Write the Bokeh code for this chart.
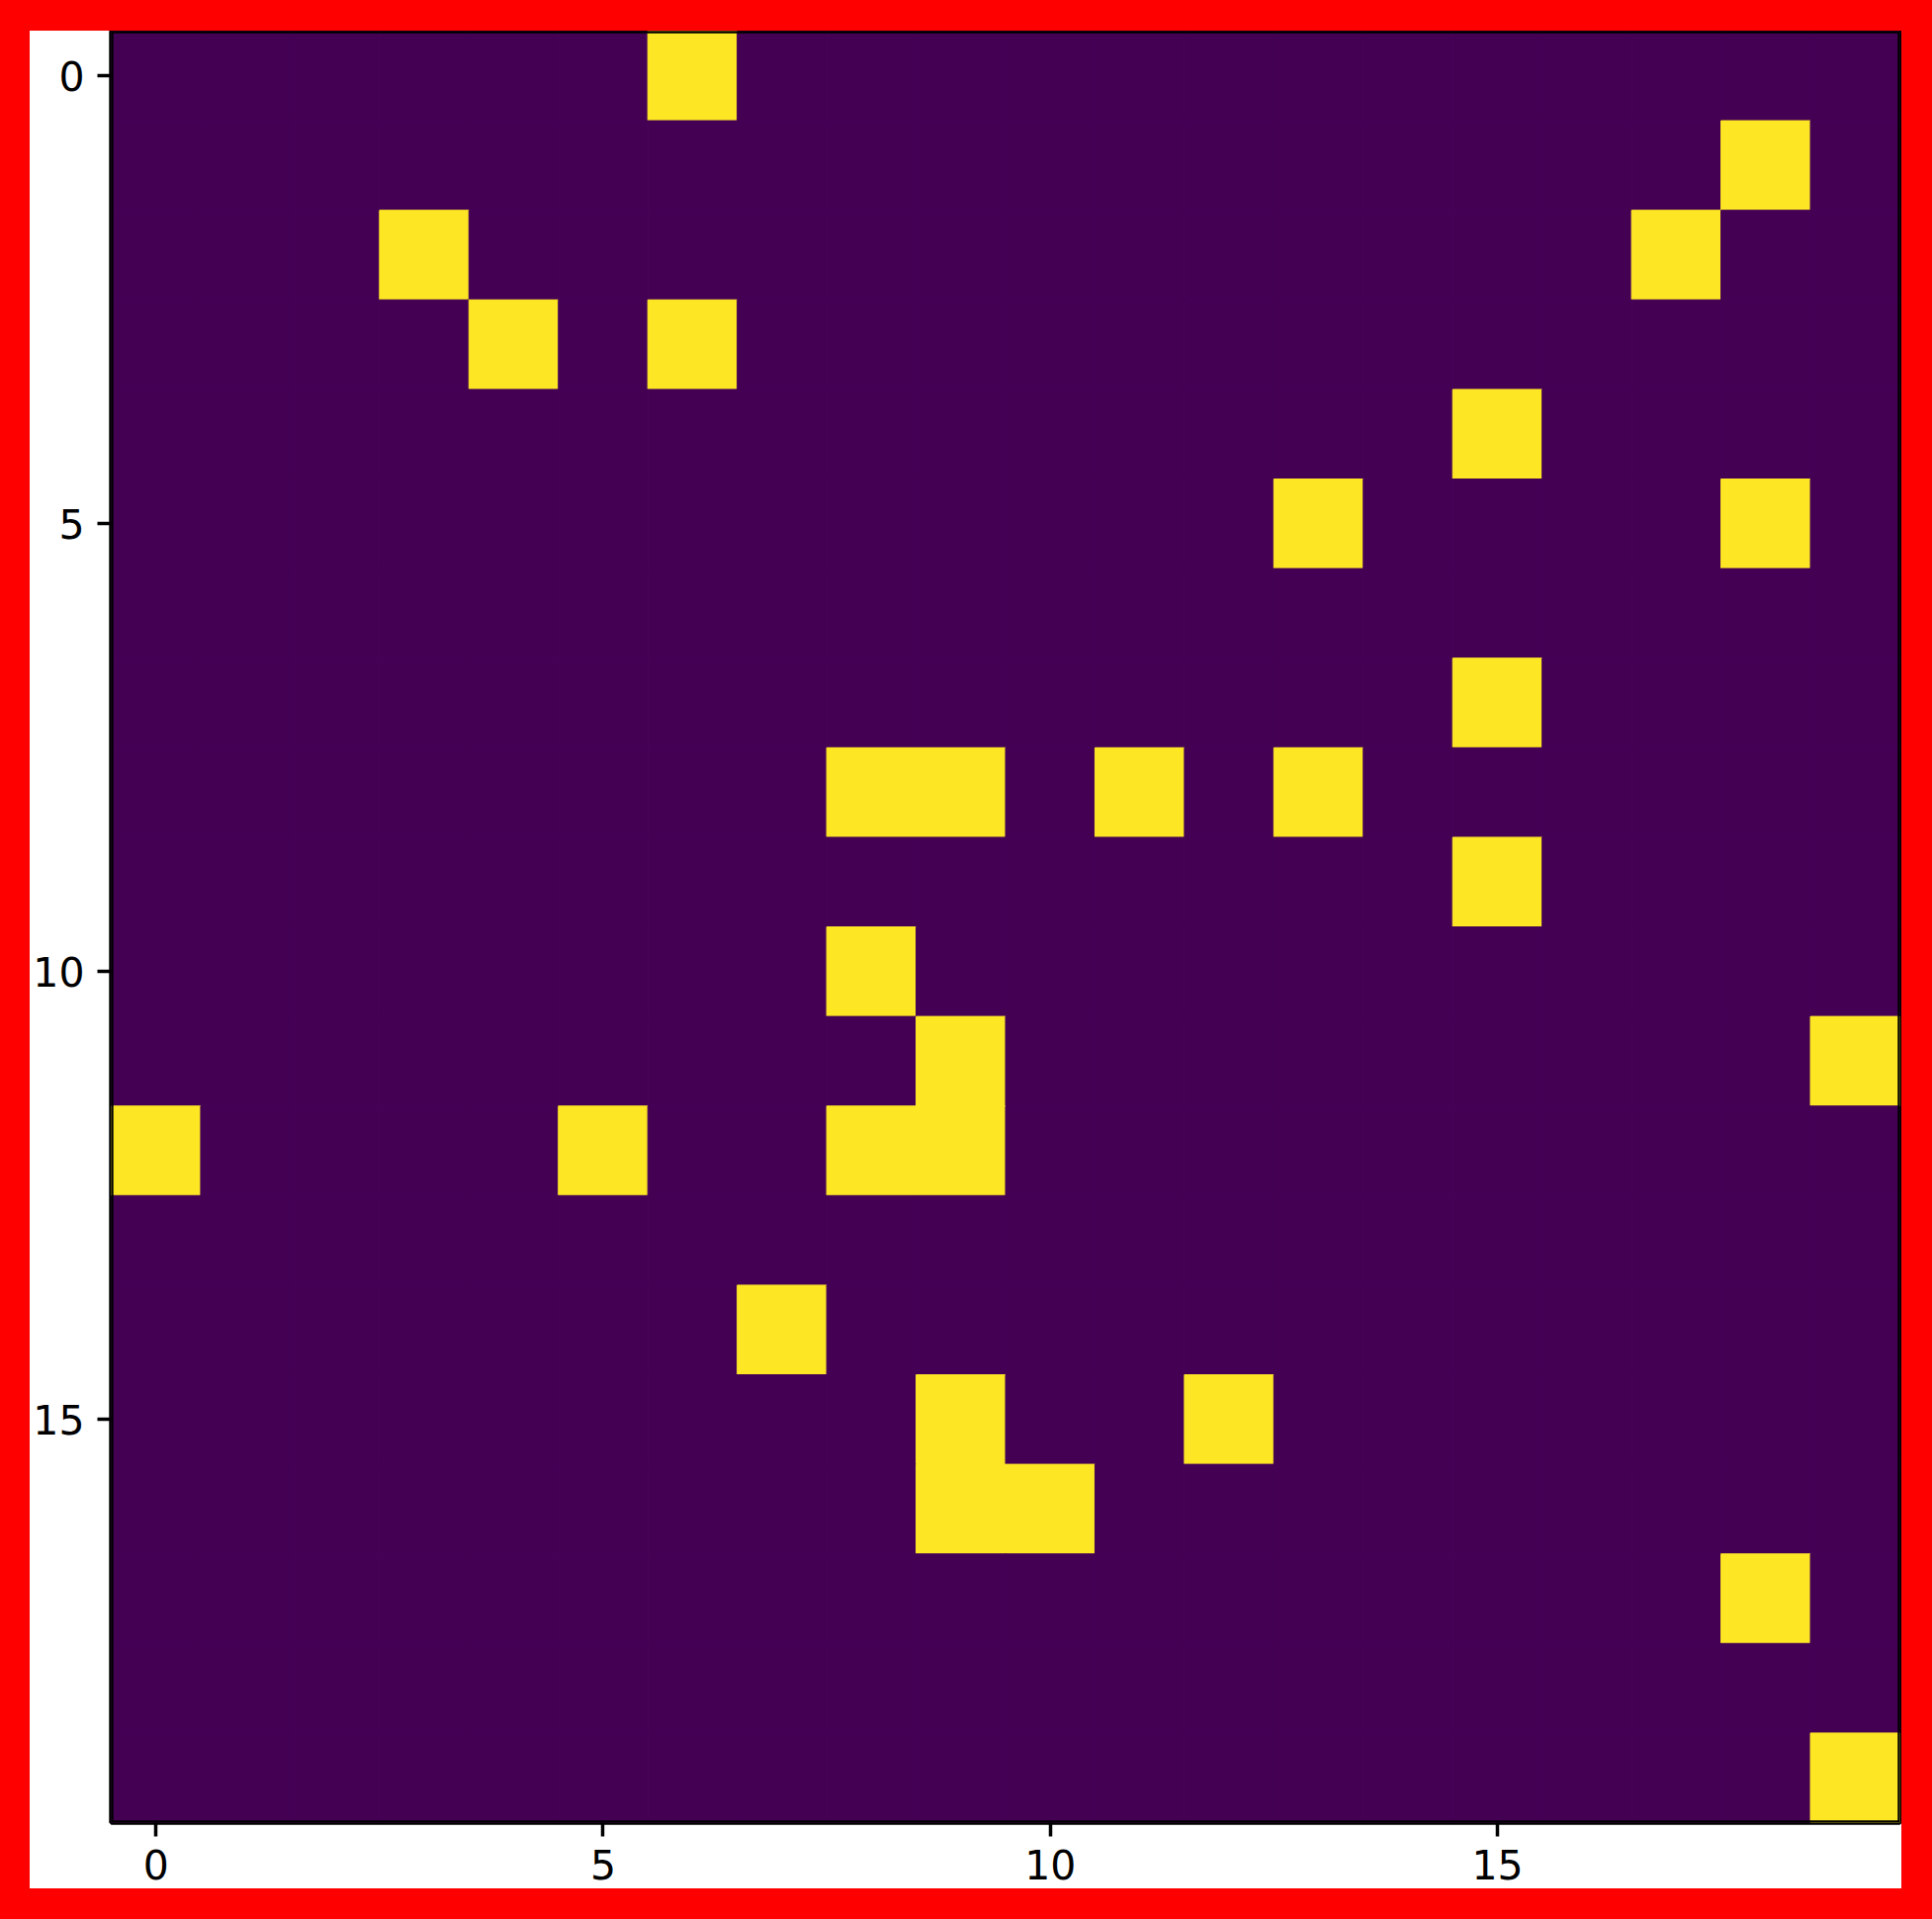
from bokeh.plotting import figure
from bokeh.models import ColumnDataSource, FixedTicker, Range1d
from bokeh.embed import file_html
from bokeh.resources import INLINE

# 20x20 binary matrix, row 0 at top (matshow-like)
grid_rows = [
    "00000010000000000000",
    "00000000000000000010",
    "00010000000000000100",
    "00001010000000000000",
    "00000000000000010000",
    "00000000000001000010",
    "00000000000000000000",
    "00000000000000010000",
    "00000000110101000000",
    "00000000000000010000",
    "00000000100000000000",
    "00000000010000000001",
    "10000100110000000000",
    "00000000000000000000",
    "00000001000000000000",
    "00000000010010000000",
    "00000000011000000000",
    "00000000000000000010",
    "00000000000000000000",
    "00000000000000000001",
]
tick_values = [0, 5, 10, 15]
low_color = "#440154"
high_color = "#fde725"

xs, ys, vals, cols = [], [], [], []
for r, row in enumerate(grid_rows):
    for c, ch in enumerate(row):
        v = int(ch)
        xs.append(c)
        ys.append(r)
        vals.append(v)
        cols.append(high_color if v else low_color)

src = ColumnDataSource(dict(x=xs, y=ys, v=vals, color=cols))

n = len(grid_rows)
p = figure(
    width=1893, height=1879,
    x_range=Range1d(-0.5, n - 0.5),
    y_range=Range1d(n - 0.5, -0.5),
    output_backend="svg", toolbar_location=None,
    min_border_left=80, min_border_right=63, min_border_top=0, min_border_bottom=129,
)
p.styles = {"border-style": "solid", "border-color": "red",
            "border-width": "31px 31px 31px 30px", "box-sizing": "content-box"}

p.rect(x="x", y="y", width=1, height=1, source=src,
       fill_color="color", line_color="color", line_width=1)

# frame border (inner half, drawn above the cells)
p.rect(x=[(n - 1) / 2], y=[(n - 1) / 2], width=n, height=n,
       fill_color=None, line_color="black", line_width=4.4)

p.grid.visible = False
p.background_fill_color = "white"
p.border_fill_color = "white"
p.outline_line_color = "black"
p.outline_line_width = 4.4

for ax in (p.xaxis[0], p.yaxis[0]):
    ax.ticker = FixedTicker(ticks=tick_values)
    ax.axis_line_color = None
    ax.major_tick_in = 0
    ax.major_tick_out = 14
    ax.major_tick_line_width = 3.5
    ax.major_tick_line_color = "black"
    ax.minor_tick_line_color = None
    ax.major_label_text_font = "DejaVu Sans"
    ax.major_label_text_font_size = "41px"
    ax.major_label_text_color = "black"
    ax.major_label_standoff = 13

open("out.html", "w").write(file_html(p, INLINE))
